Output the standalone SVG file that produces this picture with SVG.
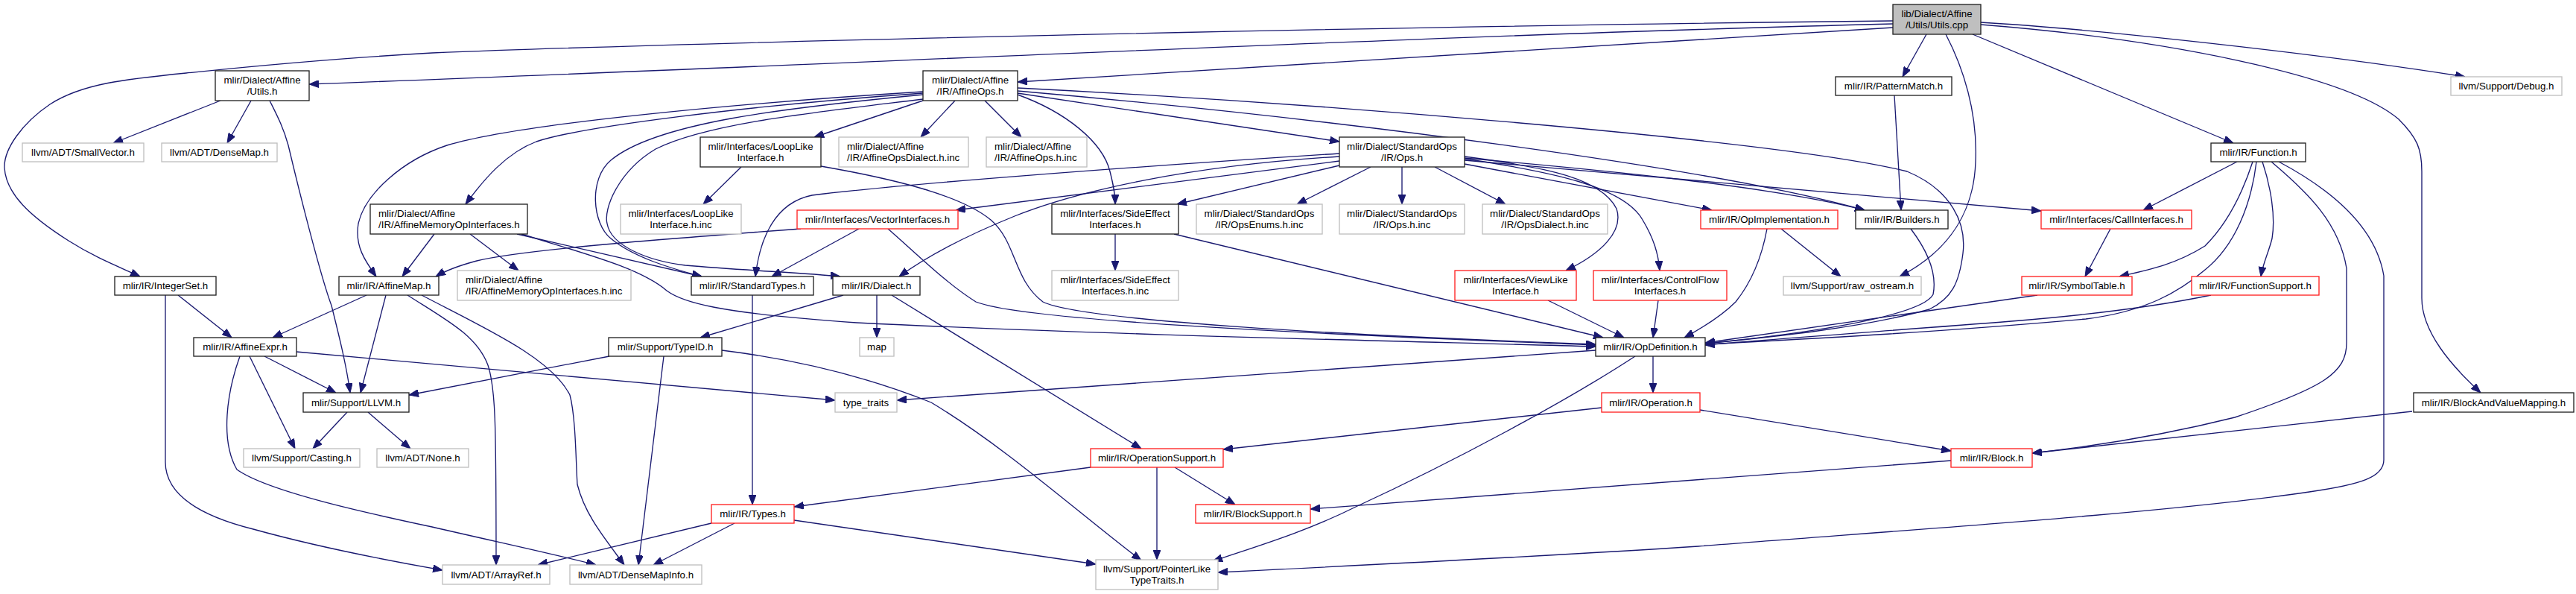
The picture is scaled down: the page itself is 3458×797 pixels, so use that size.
<svg xmlns="http://www.w3.org/2000/svg" width="3458" height="797" viewBox="0 0 3458 797">
<style>
text{font-family:"Liberation Sans",Arial,Helvetica,sans-serif;font-size:13.3px;fill:#000}
.c{text-anchor:middle}
.l{text-anchor:start}
rect{fill:#fff;stroke-width:1.33}
.k rect{stroke:#222}
.g rect{stroke:#bfbfbf}
.r rect{stroke:#ff2020}
.root rect{fill:#bfbfbf;stroke:#222}
#edges path{fill:none;stroke:#191970;stroke-width:1.33;marker-end:url(#ah)}
</style>
<defs>
<marker id="ah" viewBox="0 0 13 10" refX="13" refY="5" markerWidth="13" markerHeight="10" markerUnits="userSpaceOnUse" orient="auto">
<path d="M0,0 L13,5 L0,10 z" fill="#191970" stroke="#191970" stroke-width="1"/>
</marker>
</defs>
<rect x="0" y="0" width="3458" height="797" style="fill:#fff;stroke:none"/>
<g id="edges">
<path d="M2541,28 C1800,36 900,58 580,71 C420,80 300,93 250,98 C170,106 110,112 67,140 C30,165 5,200 6,225 C8,260 40,290 92,323 C130,347 160,358 188,371"/>
<path d="M2541,32 C1900,48 1100,88 415,113"/>
<path d="M2541,37 L1366,110"/>
<path d="M2586,46 L2554,103"/>
<path d="M2612,46 C2635,90 2655,150 2652,217 C2650,280 2620,335 2550,371"/>
<path d="M2648,46 L2998,192"/>
<path d="M2659,30 C2800,38 3100,70 3309,103"/>
<path d="M2659,33 C2900,52 3150,100 3220,160 C3245,185 3251,200 3251,230 L3251,400 C3251,445 3290,490 3330,527"/>
<path d="M1239,123 C1000,138 700,165 600,195 C540,215 490,260 481,300 C476,330 490,350 505,371"/>
<path d="M1239,125 C1000,142 780,170 720,190 C680,205 650,240 625,274"/>
<path d="M1239,127 C1050,145 880,165 820,215 C790,240 795,300 820,320 C850,345 900,360 942,371"/>
<path d="M1239,133 C1100,150 950,165 880,200 C830,230 810,280 815,300 C820,330 870,350 920,356 C1000,363 1080,366 1128,371"/>
<path d="M1239,135 C1200,148 1150,165 1093,184"/>
<path d="M1282,135 L1236,184"/>
<path d="M1322,135 L1371,184"/>
<path d="M1366,127 C1430,150 1480,190 1490,230 C1495,250 1497,260 1497,274"/>
<path d="M1366,125 L1798,190"/>
<path d="M1366,122 C1800,160 2300,225 2503,282"/>
<path d="M1366,118 C1800,140 2400,190 2560,230 C2620,255 2640,300 2635,340 C2630,380 2620,400 2590,415 C2500,440 2380,452 2289,461"/>
<path d="M1177,396 L1177,453"/>
<path d="M1132,396 L940,453"/>
<path d="M1197,396 L1532,602"/>
<path d="M1840,224 L1741,274"/>
<path d="M1882,224 L1882,274"/>
<path d="M1926,224 L2021,274"/>
<path d="M1966,210 C2080,225 2150,240 2170,280 C2180,310 2150,340 2102,363"/>
<path d="M1966,213 C2080,230 2180,250 2205,295 C2220,320 2226,340 2228,363"/>
<path d="M1966,220 L2298,282"/>
<path d="M1966,212 C2150,228 2380,250 2503,282"/>
<path d="M1966,215 L2740,283"/>
<path d="M1798,206 C1500,225 1200,248 1090,262 C1040,272 1020,320 1014,371"/>
<path d="M1798,210 C1600,222 1450,255 1362,290 C1300,315 1250,340 1207,371"/>
<path d="M1798,216 L1283,282"/>
<path d="M1798,222 L1580,274"/>
<path d="M995,224 L944,274"/>
<path d="M1102,223 C1200,240 1290,262 1330,295 C1365,325 1360,375 1400,405 C1450,430 1800,450 2142,462"/>
<path d="M1075,307 C900,320 700,335 640,350 C610,358 595,365 585,371"/>
<path d="M1153,307 L1036,371"/>
<path d="M1192,307 C1230,340 1270,380 1310,405 C1360,425 1600,442 2142,463"/>
<path d="M583,314 L540,371"/>
<path d="M631,314 L696,363"/>
<path d="M694,314 L942,371"/>
<path d="M700,314 C790,342 860,360 895,390 C915,405 960,420 1150,433 C1500,450 1900,458 2142,465"/>
<path d="M1497,314 L1497,363"/>
<path d="M1576,314 L2152,453"/>
<path d="M1010,396 L1010,677"/>
<path d="M492,396 L366,453"/>
<path d="M518,396 L484,527"/>
<path d="M547,396 C600,430 640,450 655,490 C665,520 666,560 666,758"/>
<path d="M566,396 C650,440 740,480 765,530 C773,560 773,620 775,650 C785,690 810,720 838,758"/>
<path d="M239,396 L311,453"/>
<path d="M222,396 L222,620 C222,660 260,690 340,710 C430,735 520,752 594,765"/>
<path d="M296,135 L152,192"/>
<path d="M337,135 L305,192"/>
<path d="M362,135 C372,155 380,170 387,195 C400,250 430,370 445,410 C455,450 465,490 470,527"/>
<path d="M355,478 L451,527"/>
<path d="M335,478 L396,602"/>
<path d="M398,472 L1121,537"/>
<path d="M322,478 C305,525 295,590 318,630 C360,660 500,690 580,707 C680,730 750,745 800,758"/>
<path d="M466,553 L420,602"/>
<path d="M494,553 L551,602"/>
<path d="M818,478 L549,530"/>
<path d="M891,478 L857,758"/>
<path d="M969,470 C1050,480 1150,500 1250,540 C1350,600 1450,690 1532,752"/>
<path d="M955,702 L722,758"/>
<path d="M986,702 L877,758"/>
<path d="M1066,698 L1471,757"/>
<path d="M1464,627 L1066,680"/>
<path d="M1553,627 L1553,751"/>
<path d="M1577,627 L1658,677"/>
<path d="M2619,618 L1759,683"/>
<path d="M2282,550 L2619,605"/>
<path d="M2150,547 L1642,603"/>
<path d="M2219,478 L2219,527"/>
<path d="M2142,470 L1204,537"/>
<path d="M2195,478 C2100,540 1950,620 1820,680 C1750,715 1680,735 1628,753"/>
<path d="M3003,217 L2877,282"/>
<path d="M3024,217 C3010,260 2990,300 2960,330 C2920,355 2885,362 2845,371"/>
<path d="M3029,217 C3022,275 3000,330 2960,362 C2925,392 2880,418 2800,428 C2600,446 2420,455 2289,462"/>
<path d="M3037,217 C3048,250 3055,290 3050,320 C3045,340 3038,352 3035,371"/>
<path d="M3049,217 C3100,260 3140,300 3150,360 L3150,460 C3150,500 3120,520 3000,560 C2900,585 2800,600 2728,608"/>
<path d="M3059,217 C3140,260 3190,310 3200,370 L3200,617 C3200,640 3170,650 3100,660 C2900,690 2500,715 2280,733 C2100,745 1900,755 1635,768"/>
<path d="M2968,396 C2900,410 2800,423 2700,431 C2550,443 2400,453 2289,463"/>
<path d="M2735,396 L2289,460"/>
<path d="M3238,552 L2728,608"/>
<path d="M2543,128 L2552,282"/>
<path d="M2565,307 C2590,340 2600,370 2595,395 C2585,415 2500,440 2289,461"/>
<path d="M2391,307 L2471,371"/>
<path d="M2372,307 C2365,345 2350,380 2330,405 C2310,425 2285,440 2261,453"/>
<path d="M2833,307 L2799,371"/>
<path d="M2078,403 L2180,453"/>
<path d="M2226,403 L2219,453"/>
</g>
<g id="n_utils_cpp" class="root"><rect x="2541" y="6" width="118" height="40"/><text class="c" x="2600" y="22.5">lib/Dialect/Affine</text><text class="c" x="2600" y="37.5">/Utils/Utils.cpp</text></g>
<g id="n_utils_h" class="k"><rect x="289" y="95" width="126" height="40"/><text class="c" x="352" y="111.5">mlir/Dialect/Affine</text><text class="c" x="352" y="126.5">/Utils.h</text></g>
<g id="n_affineops_h" class="k"><rect x="1239" y="95" width="127" height="40"/><text class="c" x="1302.5" y="111.5">mlir/Dialect/Affine</text><text class="c" x="1302.5" y="126.5">/IR/AffineOps.h</text></g>
<g id="n_patternmatch" class="k"><rect x="2464" y="103" width="156" height="25"/><text class="c" x="2542" y="120">mlir/IR/PatternMatch.h</text></g>
<g id="n_debug" class="g"><rect x="3290" y="103" width="149" height="25"/><text class="c" x="3364.5" y="120">llvm/Support/Debug.h</text></g>
<g id="n_smallvector" class="g"><rect x="30" y="192" width="163" height="25"/><text class="c" x="111.5" y="209">llvm/ADT/SmallVector.h</text></g>
<g id="n_densemap" class="g"><rect x="217" y="192" width="155" height="25"/><text class="c" x="294.5" y="209">llvm/ADT/DenseMap.h</text></g>
<g id="n_looplike" class="k"><rect x="940" y="184" width="162" height="40"/><text class="c" x="1021" y="200.5">mlir/Interfaces/LoopLike</text><text class="c" x="1021" y="215.5">Interface.h</text></g>
<g id="n_affineopsdialect_inc" class="g"><rect x="1126" y="184" width="174" height="40"/><text class="l" x="1137" y="200.5">mlir/Dialect/Affine</text><text class="l" x="1137" y="215.5">/IR/AffineOpsDialect.h.inc</text></g>
<g id="n_affineops_inc" class="g"><rect x="1324" y="184" width="135" height="40"/><text class="l" x="1335" y="200.5">mlir/Dialect/Affine</text><text class="l" x="1335" y="215.5">/IR/AffineOps.h.inc</text></g>
<g id="n_ops_h" class="k"><rect x="1798" y="184" width="168" height="40"/><text class="c" x="1882" y="200.5">mlir/Dialect/StandardOps</text><text class="c" x="1882" y="215.5">/IR/Ops.h</text></g>
<g id="n_function" class="k"><rect x="2968" y="192" width="127" height="25"/><text class="c" x="3031.5" y="209">mlir/IR/Function.h</text></g>
<g id="n_affinememop" class="k"><rect x="497" y="274" width="211" height="40"/><text class="l" x="508" y="290.5">mlir/Dialect/Affine</text><text class="l" x="508" y="305.5">/IR/AffineMemoryOpInterfaces.h</text></g>
<g id="n_looplike_inc" class="g"><rect x="833" y="274" width="162" height="40"/><text class="c" x="914" y="290.5">mlir/Interfaces/LoopLike</text><text class="c" x="914" y="305.5">Interface.h.inc</text></g>
<g id="n_vectorinterfaces" class="r"><rect x="1070" y="282" width="216" height="25"/><text class="c" x="1178" y="299">mlir/Interfaces/VectorInterfaces.h</text></g>
<g id="n_sideeffect" class="k"><rect x="1412" y="274" width="170" height="40"/><text class="c" x="1497" y="290.5">mlir/Interfaces/SideEffect</text><text class="c" x="1497" y="305.5">Interfaces.h</text></g>
<g id="n_opsenums_inc" class="g"><rect x="1606" y="274" width="169" height="40"/><text class="c" x="1690.5" y="290.5">mlir/Dialect/StandardOps</text><text class="c" x="1690.5" y="305.5">/IR/OpsEnums.h.inc</text></g>
<g id="n_ops_inc" class="g"><rect x="1798" y="274" width="168" height="40"/><text class="c" x="1882" y="290.5">mlir/Dialect/StandardOps</text><text class="c" x="1882" y="305.5">/IR/Ops.h.inc</text></g>
<g id="n_opsdialect_inc" class="g"><rect x="1990" y="274" width="168" height="40"/><text class="c" x="2074" y="290.5">mlir/Dialect/StandardOps</text><text class="c" x="2074" y="305.5">/IR/OpsDialect.h.inc</text></g>
<g id="n_opimplementation" class="r"><rect x="2283" y="282" width="184" height="25"/><text class="c" x="2375" y="299">mlir/IR/OpImplementation.h</text></g>
<g id="n_builders" class="k"><rect x="2491" y="282" width="124" height="25"/><text class="c" x="2553" y="299">mlir/IR/Builders.h</text></g>
<g id="n_callinterfaces" class="r"><rect x="2740" y="282" width="202" height="25"/><text class="c" x="2841" y="299">mlir/Interfaces/CallInterfaces.h</text></g>
<g id="n_integerset" class="k"><rect x="154" y="371" width="136" height="25"/><text class="c" x="222" y="388">mlir/IR/IntegerSet.h</text></g>
<g id="n_affinemap" class="k"><rect x="455" y="371" width="134" height="25"/><text class="c" x="522" y="388">mlir/IR/AffineMap.h</text></g>
<g id="n_affinememop_inc" class="g"><rect x="614" y="363" width="233" height="40"/><text class="l" x="625" y="379.5">mlir/Dialect/Affine</text><text class="l" x="625" y="394.5">/IR/AffineMemoryOpInterfaces.h.inc</text></g>
<g id="n_standardtypes" class="k"><rect x="928" y="371" width="164" height="25"/><text class="c" x="1010" y="388">mlir/IR/StandardTypes.h</text></g>
<g id="n_dialect" class="k"><rect x="1118" y="371" width="117" height="25"/><text class="c" x="1176.5" y="388">mlir/IR/Dialect.h</text></g>
<g id="n_sideeffect_inc" class="g"><rect x="1412" y="363" width="170" height="40"/><text class="c" x="1497" y="379.5">mlir/Interfaces/SideEffect</text><text class="c" x="1497" y="394.5">Interfaces.h.inc</text></g>
<g id="n_viewlike" class="r"><rect x="1953" y="363" width="163" height="40"/><text class="c" x="2034.5" y="379.5">mlir/Interfaces/ViewLike</text><text class="c" x="2034.5" y="394.5">Interface.h</text></g>
<g id="n_controlflow" class="r"><rect x="2139" y="363" width="179" height="40"/><text class="c" x="2228.5" y="379.5">mlir/Interfaces/ControlFlow</text><text class="c" x="2228.5" y="394.5">Interfaces.h</text></g>
<g id="n_raw_ostream" class="g"><rect x="2394" y="371" width="185" height="25"/><text class="c" x="2486.5" y="388">llvm/Support/raw_ostream.h</text></g>
<g id="n_symboltable" class="r"><rect x="2714" y="371" width="148" height="25"/><text class="c" x="2788" y="388">mlir/IR/SymbolTable.h</text></g>
<g id="n_functionsupport" class="r"><rect x="2942" y="371" width="171" height="25"/><text class="c" x="3027.5" y="388">mlir/IR/FunctionSupport.h</text></g>
<g id="n_affineexpr" class="k"><rect x="260" y="453" width="138" height="25"/><text class="c" x="329" y="470">mlir/IR/AffineExpr.h</text></g>
<g id="n_typeid" class="k"><rect x="817" y="453" width="152" height="25"/><text class="c" x="893" y="470">mlir/Support/TypeID.h</text></g>
<g id="n_map" class="g"><rect x="1154" y="453" width="46" height="25"/><text class="c" x="1177" y="470">map</text></g>
<g id="n_opdefinition" class="k"><rect x="2142" y="453" width="147" height="25"/><text class="c" x="2215.5" y="470">mlir/IR/OpDefinition.h</text></g>
<g id="n_llvm" class="k"><rect x="407" y="527" width="142" height="26"/><text class="c" x="478" y="544.5">mlir/Support/LLVM.h</text></g>
<g id="n_type_traits" class="g"><rect x="1121" y="527" width="83" height="26"/><text class="c" x="1162.5" y="544.5">type_traits</text></g>
<g id="n_operation" class="r"><rect x="2150" y="527" width="132" height="26"/><text class="c" x="2216" y="544.5">mlir/IR/Operation.h</text></g>
<g id="n_bavm" class="k"><rect x="3240" y="527" width="215" height="26"/><text class="c" x="3347.5" y="544.5">mlir/IR/BlockAndValueMapping.h</text></g>
<g id="n_casting" class="g"><rect x="327" y="602" width="156" height="25"/><text class="c" x="405" y="619">llvm/Support/Casting.h</text></g>
<g id="n_none" class="g"><rect x="506" y="602" width="123" height="25"/><text class="c" x="567.5" y="619">llvm/ADT/None.h</text></g>
<g id="n_operationsupport" class="r"><rect x="1464" y="602" width="178" height="25"/><text class="c" x="1553" y="619">mlir/IR/OperationSupport.h</text></g>
<g id="n_block" class="r"><rect x="2619" y="602" width="109" height="25"/><text class="c" x="2673.5" y="619">mlir/IR/Block.h</text></g>
<g id="n_types" class="r"><rect x="955" y="677" width="111" height="25"/><text class="c" x="1010.5" y="694">mlir/IR/Types.h</text></g>
<g id="n_blocksupport" class="r"><rect x="1605" y="677" width="154" height="25"/><text class="c" x="1682" y="694">mlir/IR/BlockSupport.h</text></g>
<g id="n_arrayref" class="g"><rect x="594" y="758" width="144" height="26"/><text class="c" x="666" y="775.5">llvm/ADT/ArrayRef.h</text></g>
<g id="n_densemapinfo" class="g"><rect x="765" y="758" width="177" height="26"/><text class="c" x="853.5" y="775.5">llvm/ADT/DenseMapInfo.h</text></g>
<g id="n_pointerlike" class="g"><rect x="1471" y="751" width="164" height="40"/><text class="c" x="1553" y="767.5">llvm/Support/PointerLike</text><text class="c" x="1553" y="782.5">TypeTraits.h</text></g>
</svg>
